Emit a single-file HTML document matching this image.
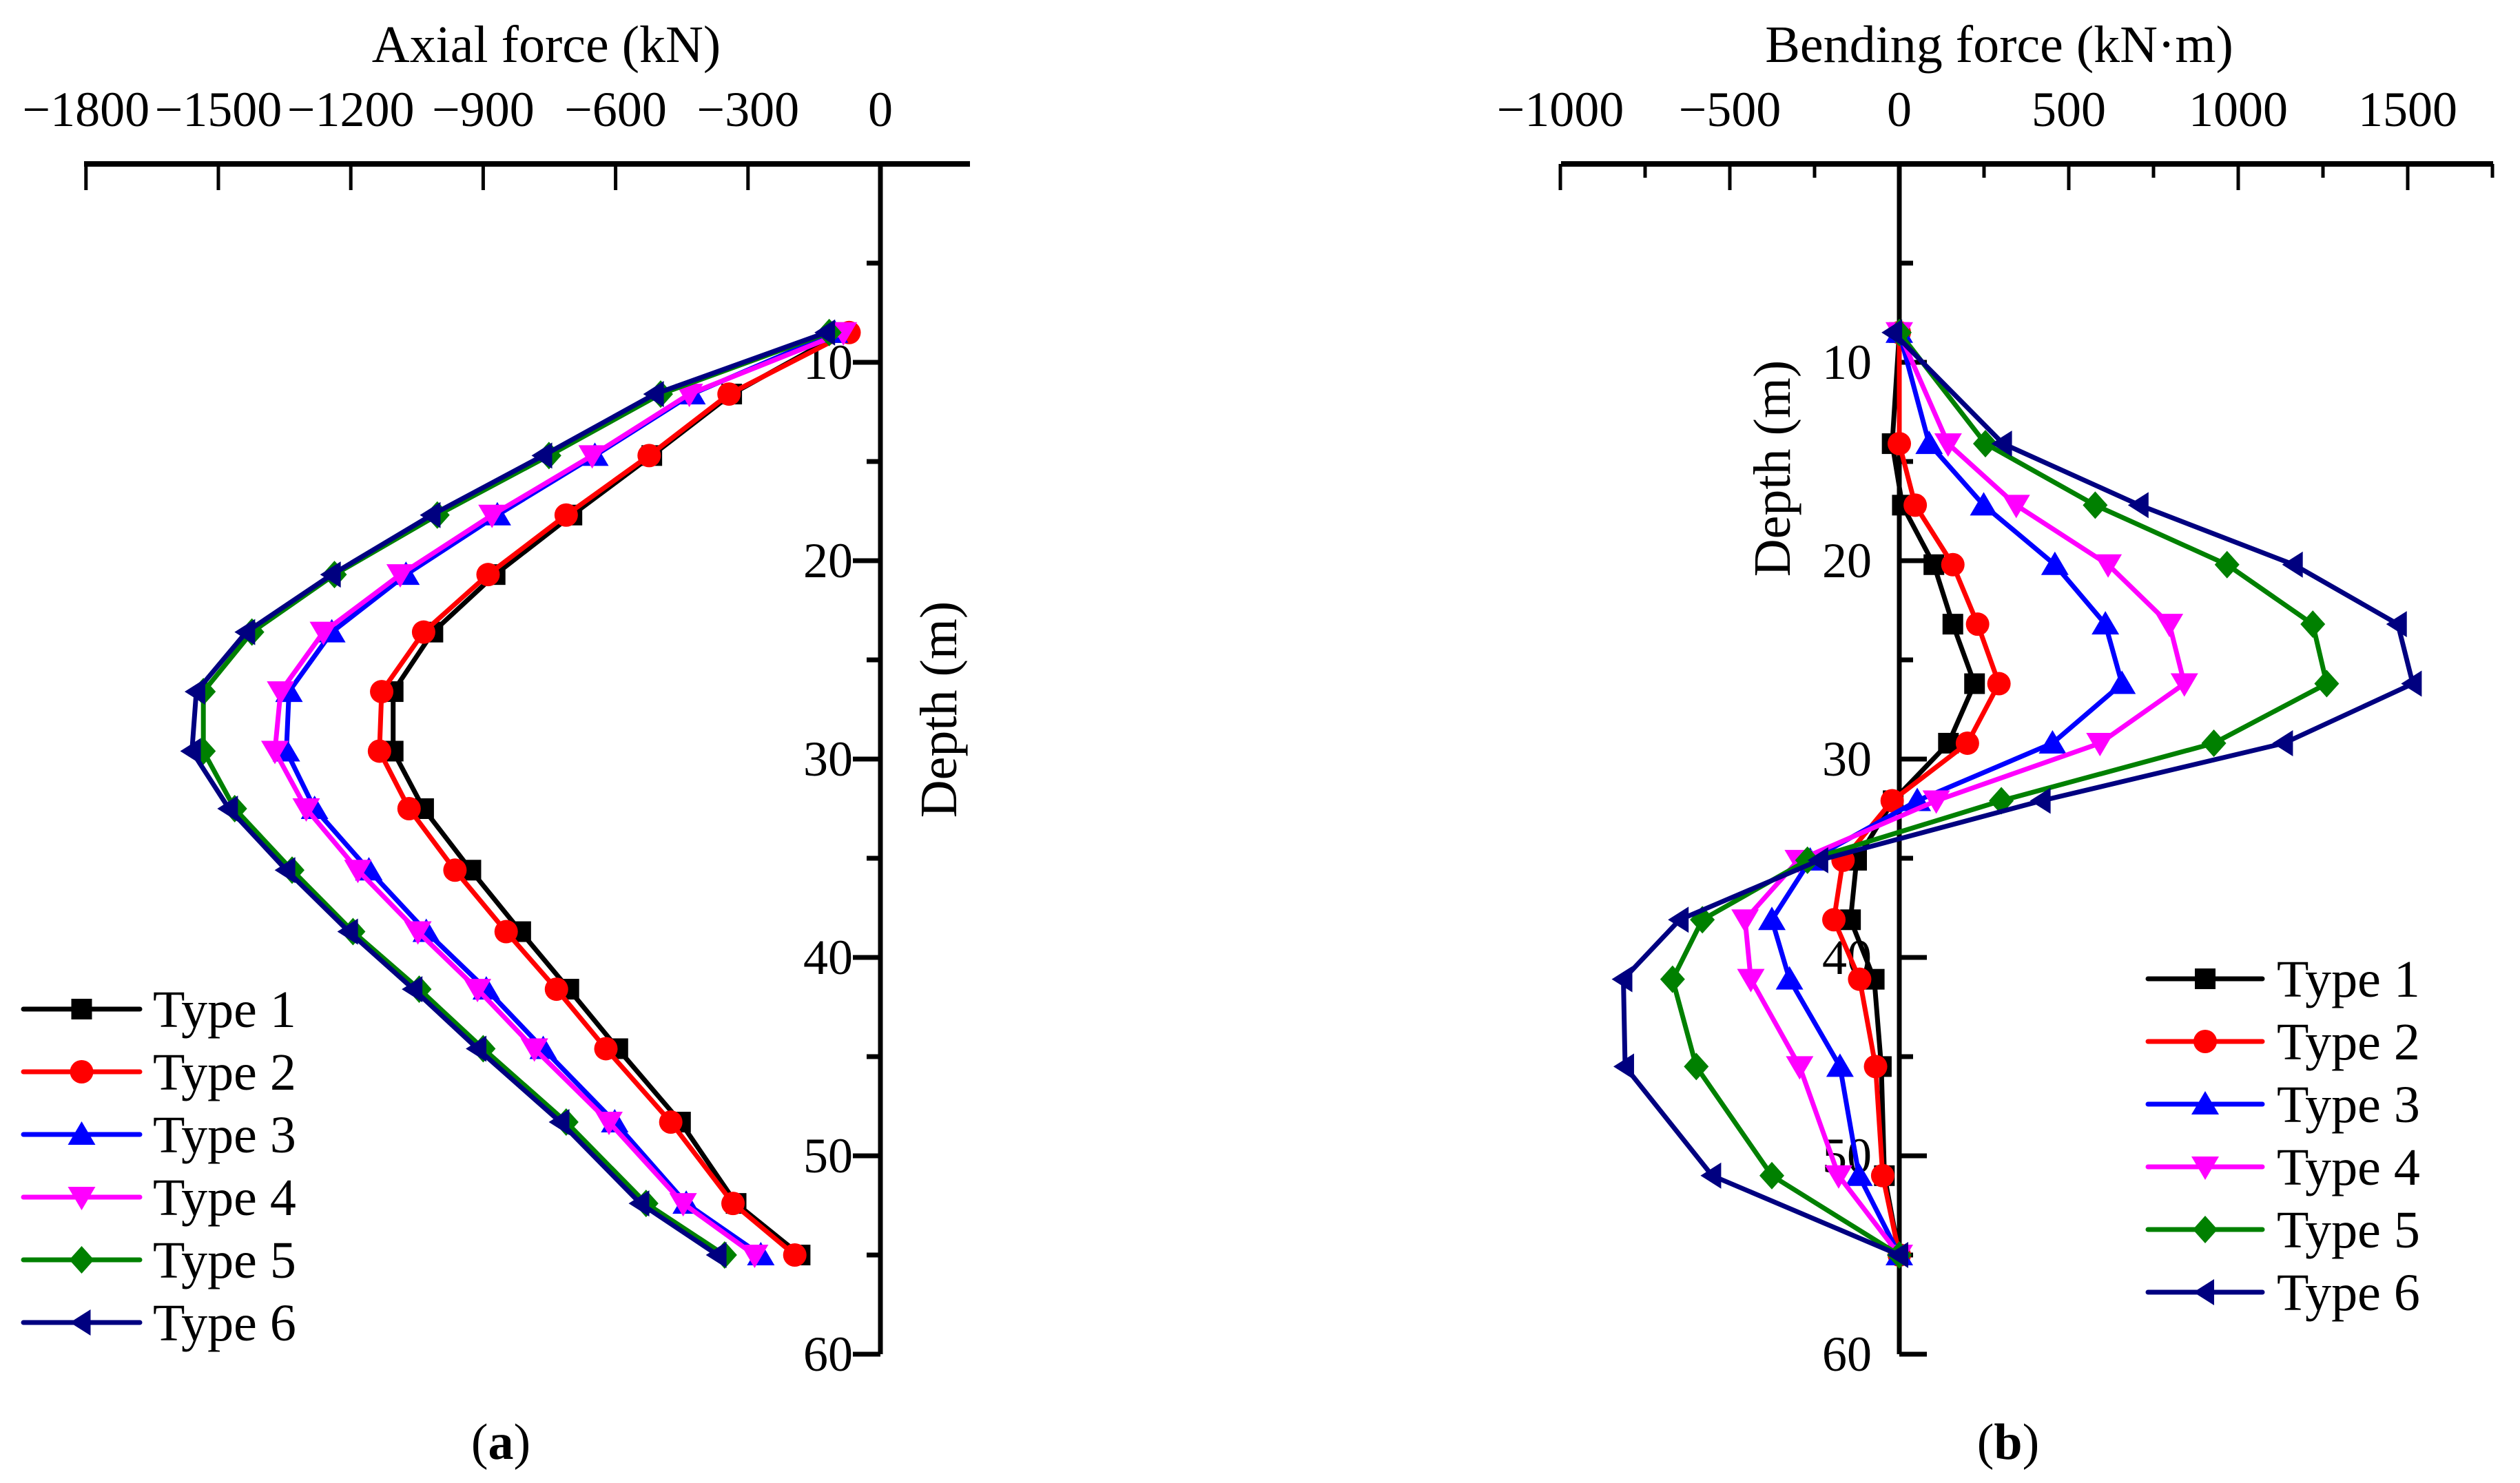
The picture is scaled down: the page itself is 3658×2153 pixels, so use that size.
<!DOCTYPE html>
<html><head><meta charset="utf-8"><style>
html,body{margin:0;padding:0;background:#fff;}
svg{display:block;}
svg text{font-family:"Liberation Serif","Times New Roman",serif;}
</style></head><body>
<svg id="chart" width="3658" height="2153" viewBox="0 0 3658 2153" xmlns="http://www.w3.org/2000/svg">
<g id="pa"></g>
<g id="pb"></g>
<text font-family="Liberation Serif, serif" x="727" y="2118" font-size="74" text-anchor="middle">(<tspan font-weight="bold">a</tspan>)</text>
<text font-family="Liberation Serif, serif" x="2915" y="2118" font-size="74" text-anchor="middle">(<tspan font-weight="bold">b</tspan>)</text>
</svg>
<script>
const seriesNames = ["Type 1","Type 2","Type 3","Type 4","Type 5","Type 6"];
const depthsA = [8.5,11.6,14.7,17.7,20.7,23.6,26.6,29.6,32.5,35.6,38.7,41.6,44.6,48.3,52.4,55.0];
const axialT1 = [-85,-337,-518,-699,-873,-1014,-1104,-1104,-1035,-928,-815,-706,-595,-453,-327,-182];
const axialT2 = [-71,-343,-524,-712,-889,-1035,-1130,-1135,-1068,-964,-848,-734,-622,-475,-334,-194];
const axialT3 = [-104,-427,-647,-868,-1075,-1243,-1340,-1346,-1282,-1159,-1029,-893,-764,-602,-440,-271];
const axialT4 = [-84,-433,-653,-880,-1088,-1262,-1359,-1372,-1301,-1184,-1048,-913,-784,-615,-447,-285];
const axialT5 = [-116,-498,-751,-1004,-1237,-1424,-1534,-1534,-1463,-1333,-1195,-1045,-900,-712,-531,-353];
const axialT6 = [-123,-511,-764,-1017,-1243,-1437,-1550,-1560,-1476,-1346,-1204,-1058,-913,-725,-544,-369];
const depthsB = [8.5,14.1,17.2,20.2,23.2,26.2,29.2,32.1,35.1,38.1,41.1,45.5,51.0,55.0];
const bendT1 = [0,-21,9,102,158,222,145,-18,-126,-144,-74,-53,-44,0];
const bendT2 = [0,0,47,158,231,294,201,-21,-166,-193,-117,-70,-49,0];
const bendT3 = [0,88,249,459,608,657,452,53,-263,-376,-324,-175,-119,0];
const bendT4 = [0,144,345,616,797,841,592,109,-298,-455,-438,-294,-179,0];
const bendT5 = [0,254,578,967,1220,1261,928,301,-271,-581,-669,-599,-376,0];
const bendT6 = [-18,306,709,1164,1471,1515,1135,420,-236,-648,-814,-809,-552,0];
const ticksA = [-1800,-1500,-1200,-900,-600,-300,0];
const ticksB = [-1000,-500,0,500,1000,1500];
const depthTicks = [10,20,30,40,50,60];

const colors = ["#000000","#ff0000","#0000ff","#ff00ff","#008000","#000080"];
const markers = ["square","circle","up","down","diamond","left"];
const NS="http://www.w3.org/2000/svg";
const FONT="Liberation Serif, Times New Roman, serif";
function mk(tag,attrs,parent){const e=document.createElementNS(NS,tag);for(const k in attrs)e.setAttribute(k,attrs[k]);if(tag==="text")e.setAttribute("font-family",FONT);parent.appendChild(e);return e;}
const yTop=238, pxPerM=28.8;
function yS(d){return yTop+d*pxPerM;}

function marker(g,type,x,y,c){
  let e;
  const s=15;
  if(type==="square") e=mk("rect",{x:x-s,y:y-s,width:2*s,height:2*s,fill:c},g);
  else if(type==="circle") e=mk("circle",{cx:x,cy:y,r:17,fill:c},g);
  else if(type==="up") e=mk("polygon",{points:`${x},${y-19} ${x-20},${y+15} ${x+20},${y+15}`,fill:c},g);
  else if(type==="down") e=mk("polygon",{points:`${x},${y+19} ${x-20},${y-15} ${x+20},${y-15}`,fill:c},g);
  else if(type==="diamond") e=mk("polygon",{points:`${x},${y-20} ${x+18},${y} ${x},${y+20} ${x-18},${y}`,fill:c},g);
  else e=mk("polygon",{points:`${x-17},${y} ${x+13},${y-19} ${x+13},${y+19}`,fill:c},g);
  
  
}

function panel(g,cfg){
  const xS=v=>cfg.x0+(v-cfg.v0)*cfg.k;
  const xa=mk("line",{x1:cfg.xl,y1:yTop,x2:cfg.xr,y2:yTop,stroke:"#000","stroke-width":8},g);
  
  
  cfg.ticks.forEach(t=>{
    const tk=mk("line",{x1:xS(t),y1:yTop,x2:xS(t),y2:yTop+38,stroke:"#000","stroke-width":5},g);
    
    
    const lb=mk("text",{x:xS(t),y:183,"font-size":72,"text-anchor":"middle"},g);
    lb.textContent=(t<0?"\u2212":"")+Math.abs(t);
    
    
  });
  cfg.minor.forEach(t=>{
    const tk=mk("line",{x1:xS(t),y1:yTop,x2:xS(t),y2:yTop+20,stroke:"#000","stroke-width":5},g);
    
    
  });
  const tt=mk("text",{x:cfg.titleX,y:90,"font-size":76,"text-anchor":"middle"},g);
  tt.textContent=cfg.title;
  
  
  const ax=xS(0);
  const ya=mk("line",{x1:ax,y1:yTop,x2:ax,y2:yS(60),stroke:"#000","stroke-width":7},g);
  
  
  const dir=cfg.tickDir;
  for(let d=5; d<=60; d+=5){
    const major=d%10===0;
    const tk=mk("line",{x1:ax,y1:yS(d),x2:ax+dir*(major?40:20),y2:yS(d),stroke:"#000","stroke-width":7},g);
    
    
  }
  depthTicks.forEach(d=>{
    const lb=mk("text",{x:ax-40,y:yS(d)+24,"font-size":72,"text-anchor":"end"},g);
    lb.textContent=d;
    
    
  });
  const yt=mk("text",{x:0,y:0,"font-size":76,"text-anchor":"middle",transform:`translate(${cfg.yTitleX},${cfg.yTitleY}) rotate(-90)`},g);
  yt.textContent="Depth (m)";
  
  
  cfg.series.forEach((vals,i)=>{
    const sg=mk("g",{},g);
    
    
    const pts=vals.map((v,j)=>xS(v).toFixed(1)+","+yS(cfg.depths[j]).toFixed(1)).join(" ");
    const pl=mk("polyline",{points:pts,fill:"none",stroke:colors[i],"stroke-width":7,"stroke-linejoin":"round"},sg);
    
    
    vals.forEach((v,j)=>marker(sg,markers[i],xS(v),yS(cfg.depths[j]),colors[i]));
  });
  const lg=mk("g",{},g);
  
  
  seriesNames.forEach((n,i)=>{
    const y=cfg.legY+i*91;
    const eg=mk("g",{},lg);
    
    
    mk("line",{x1:cfg.legX1,y1:y,x2:cfg.legX2,y2:y,stroke:colors[i],"stroke-width":7,"stroke-linecap":"round"},eg);
    marker(eg,markers[i],(cfg.legX1+cfg.legX2)/2,y,colors[i]);
    const t=mk("text",{x:cfg.legTX,y:y+26,"font-size":76},eg);
    t.textContent=n;
  });
}

panel(document.getElementById("pa"),{
  x0:1278,v0:0,k:192.2/300,xl:122,xr:1408,ticks:ticksA,minor:[],
  title:"Axial force (kN)",titleX:793,tickDir:-1,yTitleX:1388,yTitleY:1030,
  series:[axialT1,axialT2,axialT3,axialT4,axialT5,axialT6],depths:depthsA,
  legY:1465,legX1:34,legX2:203,legTX:222
});
panel(document.getElementById("pb"),{
  x0:2757,v0:0,k:246/500,xl:2266,xr:3619,ticks:ticksB,minor:[-750,-250,250,750,1250,1750],
  title:"Bending force (kN\u00b7m)",titleX:2902,tickDir:1,yTitleX:2598,yTitleY:680,
  series:[bendT1,bendT2,bendT3,bendT4,bendT5,bendT6],depths:depthsB,
  legY:1421,legX1:3118,legX2:3284,legTX:3305
});
</script>
</body></html>
